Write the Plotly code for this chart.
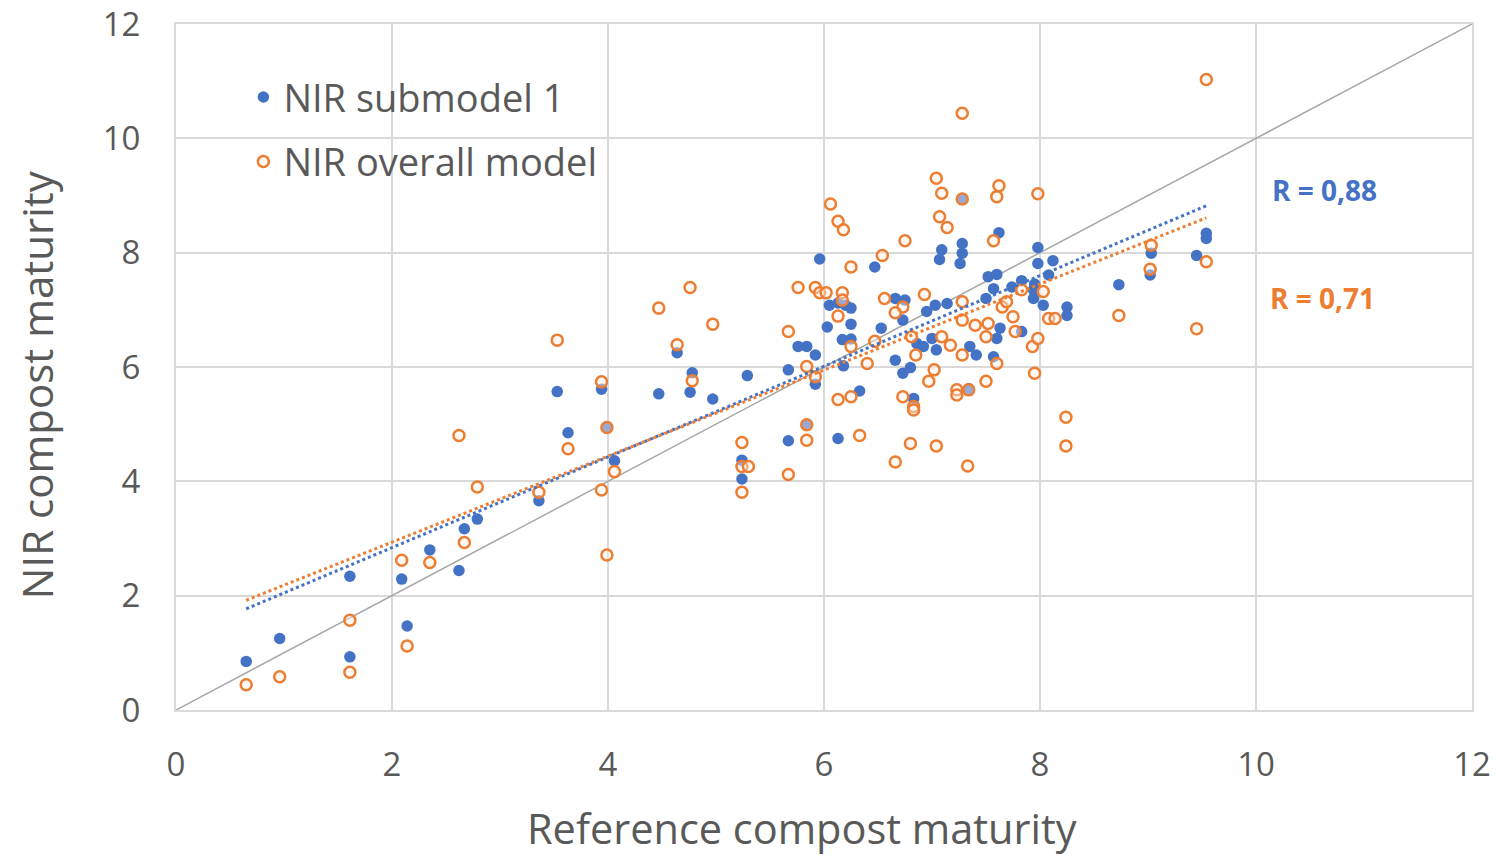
import plotly.graph_objects as go

# ---- data ----
sub_x = [0.65, 0.96, 1.61, 1.61, 2.09, 2.14, 2.35, 2.62, 2.67, 2.79, 3.36, 3.53, 3.63, 3.94, 3.99, 4.06,
         4.47, 4.64, 4.76, 4.78, 4.97, 5.29, 5.24, 5.24, 5.67, 5.67, 5.84, 5.76, 5.84, 5.92, 5.92, 5.96,
         6.03, 6.05, 6.13, 6.20, 6.25, 6.25, 6.17, 6.25, 6.18, 6.13, 6.33, 6.47, 6.53, 6.73, 6.66, 6.75,
         6.66, 6.73, 6.80, 6.83, 6.86, 6.92, 7.00, 7.04, 7.03, 6.95, 7.14, 7.09, 7.07, 7.28, 7.28, 7.26,
         7.28, 7.34, 7.35, 7.41, 7.50, 7.52, 7.60, 7.57, 7.57, 7.60, 7.63, 7.62, 7.74, 7.83, 7.83, 7.94,
         7.94, 7.95, 7.98, 7.98, 8.03, 8.08, 8.12, 8.25, 8.25, 8.73, 9.02, 9.03, 9.45, 9.54, 9.54]
sub_y = [0.85, 1.25, 0.93, 2.34, 2.29, 1.47, 2.80, 2.44, 3.17, 3.34, 3.66, 5.57, 4.85, 5.61, 4.94, 4.36,
         5.53, 6.25, 5.56, 5.90, 5.44, 5.85, 4.37, 4.04, 4.71, 5.95, 4.99, 6.36, 6.36, 6.21, 5.70, 7.89,
         6.70, 7.08, 7.12, 7.08, 7.03, 6.75, 6.48, 6.49, 6.02, 4.75, 5.58, 7.75, 6.68, 6.82, 7.20, 7.17,
         6.12, 5.89, 5.99, 5.45, 6.41, 6.36, 6.50, 6.30, 7.08, 6.97, 7.11, 8.05, 7.88, 8.16, 7.99, 7.81,
         8.94, 5.62, 6.36, 6.21, 7.20, 7.58, 7.62, 7.37, 6.18, 6.50, 6.68, 8.35, 7.40, 7.51, 6.62, 7.20,
         7.35, 7.45, 8.09, 7.81, 7.08, 7.61, 7.86, 7.05, 6.90, 7.44, 7.61, 7.99, 7.95, 8.34, 8.25]

ovr_x = [0.65, 0.96, 1.61, 1.61, 2.14, 2.09, 2.35, 2.62, 2.67, 2.79, 3.36, 3.53, 3.63, 3.94, 3.94, 3.99,
         3.99, 4.06, 4.47, 4.76, 4.64, 4.78, 4.97, 5.24, 5.24, 5.30, 5.24, 5.67, 5.67, 5.84, 5.84, 5.84,
         5.92, 5.76, 5.92, 5.96, 6.02, 6.17, 6.17, 6.13, 6.25, 6.25, 6.13, 6.25, 6.33, 6.06, 6.13, 6.18,
         6.54, 6.56, 6.75, 6.93, 6.73, 6.66, 6.47, 6.40, 6.81, 6.85, 6.66, 6.73, 6.83, 6.83, 6.80, 7.04,
         7.02, 6.97, 7.04, 7.09, 7.07, 7.14, 7.09, 7.17, 7.28, 7.28, 7.28, 7.28, 7.28, 7.23, 7.23, 7.34,
         7.33, 7.40, 7.52, 7.50, 7.50, 7.57, 7.60, 7.62, 7.60, 7.65, 7.69, 7.75, 7.77, 7.83, 7.93, 7.95,
         7.98, 7.98, 8.03, 8.08, 8.14, 8.24, 8.24, 8.73, 9.02, 9.03, 9.45, 9.54, 9.54]
ovr_y = [0.44, 0.58, 0.66, 1.57, 1.12, 2.62, 2.58, 4.80, 2.93, 3.90, 3.81, 6.47, 4.57, 3.85, 5.74, 2.71,
         4.94, 4.17, 7.03, 7.39, 6.39, 5.76, 6.75, 4.68, 4.26, 4.26, 3.81, 4.12, 6.62, 4.72, 4.99, 6.01,
         5.83, 7.39, 7.39, 7.30, 7.30, 7.30, 7.17, 6.89, 7.75, 6.36, 5.43, 5.48, 4.80, 8.85, 8.55, 8.40,
         7.95, 7.20, 8.21, 7.27, 7.05, 6.95, 6.45, 6.06, 6.53, 6.21, 4.34, 5.48, 5.31, 5.25, 4.66, 4.62,
         5.95, 5.75, 9.30, 9.04, 8.63, 8.44, 6.53, 6.38, 10.44, 8.94, 7.14, 6.82, 6.21, 5.60, 5.51, 5.60,
         4.27, 6.73, 6.76, 6.53, 5.75, 8.21, 8.98, 9.17, 6.06, 7.05, 7.14, 6.88, 6.62, 7.35, 6.36, 5.89,
         9.03, 6.50, 7.32, 6.85, 6.85, 5.12, 4.62, 6.90, 7.71, 8.13, 6.67, 7.84, 11.03]

# trendline end points
trend_x = [0.65, 9.54]
sub_trend_y = [1.77, 8.82]
ovr_trend_y = [1.92, 8.61]

# 1:1 reference line
ident = [0, 12]

series_names = ["NIR submodel 1", "NIR overall model"]
r_labels = ["R = 0,88", "R = 0,71"]
x_title = "Reference compost maturity"
y_title = "NIR compost maturity"
ticks = [0, 2, 4, 6, 8, 10, 12]

BLUE = "#4472C4"
ORANGE = "#ED7D31"
GRID = "#D9D9D9"
TXT = "#595959"
FONT = "Open Sans"

fig = go.Figure()

fig.add_trace(go.Scatter(x=ident, y=ident, mode="lines",
                         line=dict(color="#A6A6A6", width=1.5),
                         showlegend=False, hoverinfo="skip"))

fig.add_trace(go.Scatter(x=sub_x, y=sub_y, mode="markers", name=series_names[0],
                         legendgroup="a",
                         marker=dict(color=BLUE, size=11.5, line=dict(width=0))))
fig.add_trace(go.Scatter(x=ovr_x, y=ovr_y, mode="markers", name=series_names[1],
                         legendgroup="b",
                         marker=dict(color="rgba(255,240,230,0.45)", size=11,
                                     line=dict(color=ORANGE, width=2.5))))

fig.add_trace(go.Scatter(x=trend_x, y=sub_trend_y, mode="lines",
                         line=dict(color=BLUE, width=3, dash="dot"),
                         showlegend=False, hoverinfo="skip"))
fig.add_trace(go.Scatter(x=trend_x, y=ovr_trend_y, mode="lines",
                         line=dict(color=ORANGE, width=3, dash="dot"),
                         showlegend=False, hoverinfo="skip"))

fig.add_annotation(x=10.13, y=9.1, xref="x", yref="y", text="<b>" + r_labels[0] + "</b>",
                   showarrow=False, xanchor="left", yanchor="middle",
                   font=dict(family=FONT, size=28, color=BLUE))
fig.add_annotation(x=10.11, y=7.2, xref="x", yref="y", text="<b>" + r_labels[1] + "</b>",
                   showarrow=False, xanchor="left", yanchor="middle",
                   font=dict(family=FONT, size=28, color=ORANGE))

# axis titles (placed as in the reference)
fig.add_annotation(x=0.483, y=-0.172, xref="paper", yref="paper", text=x_title,
                   showarrow=False, xanchor="center", yanchor="middle",
                   font=dict(family=FONT, size=41.5, color=TXT))
fig.add_annotation(x=-0.107, y=0.474, xref="paper", yref="paper", text=y_title,
                   showarrow=False, xanchor="center", yanchor="middle", textangle=-90,
                   font=dict(family=FONT, size=42, color=TXT))

axis_common = dict(range=[0, 12], tickvals=ticks, showgrid=True, gridcolor=GRID, gridwidth=2,
                   zeroline=False, showline=True, linecolor=GRID, linewidth=2, mirror=True,
                   tickfont=dict(family=FONT, size=33, color=TXT), automargin=False,
                   ticklabeloverflow="allow",
                   ticks="outside", tickcolor="rgba(0,0,0,0)")

fig.update_layout(
    width=1498, height=855,
    margin=dict(l=176, r=26, t=24, b=145),
    paper_bgcolor="white", plot_bgcolor="white",
    font=dict(family=FONT, color=TXT),
    xaxis=dict(**axis_common, ticklen=24),
    yaxis=dict(**axis_common, ticklen=27),
    legend=dict(x=0.052, y=0.939, xanchor="left", yanchor="top",
                bgcolor="rgba(0,0,0,0)", tracegroupgap=12,
                font=dict(family=FONT, size=38, color=TXT)),
    showlegend=True,
)

fig.write_html("out.html", config={"displayModeBar": False},
               post_script="document.body.style.margin='0';document.body.style.overflow='hidden';")
